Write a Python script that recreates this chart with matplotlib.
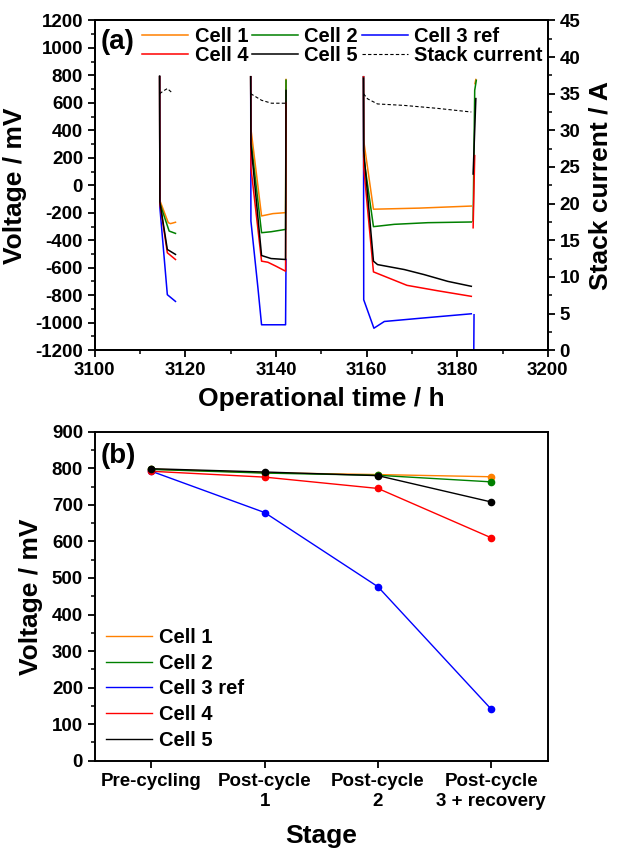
import numpy as np
import matplotlib
matplotlib.use("Agg")
import matplotlib.pyplot as plt
from matplotlib.ticker import MultipleLocator
from matplotlib.lines import Line2D

plt.rcParams['font.family'] = ['Liberation Sans', 'DejaVu Sans']
plt.rcParams['font.weight'] = 'bold'
plt.rcParams['axes.unicode_minus'] = False

nan = np.nan

# ---------------- Panel (a) data: operational time (h) vs voltage (mV) ----------------
cell1_t = [3114.3, 3114.35, 3116.2, 3116.7, 3117.8, nan,
           3134.4, 3134.45, 3136.8, 3139.3, 3142.1, 3142.2, nan,
           3159.3, 3159.35, 3161.5, 3171.6, 3183.1, nan, 3183.9, 3184.1]
cell1_v = [790, -110, -272, -279, -269, nan,
           790, 411, -223, -206, -199, 770, nan,
           790, 325, -174, -166, -151, nan, 740, 770]

cell2_t = [3114.3, 3114.35, 3116.4, 3117.8, nan,
           3134.4, 3134.45, 3136.8, 3138.9, 3142.1, 3142.2, nan,
           3159.3, 3159.35, 3161.5, 3166.1, 3173.5, 3183.1, nan, 3183.5, 3183.85, 3184.2]
cell2_v = [790, -130, -333, -350, nan,
           790, 326, -345, -338, -321, 765, nan,
           790, 203, -301, -284, -272, -267, nan, -260, 691, 764]

cell3_t = [3114.3, 3114.35, 3116.0, 3117.8, nan,
           3134.4, 3134.45, 3136.0, 3136.8, 3142.1, 3142.2, nan,
           3159.3, 3159.35, 3161.6, 3163.9, 3172.0, 3183.1, nan, 3183.7, 3183.65]
cell3_v = [790, -160, -796, -845, nan,
           790, -260, -747, -1015, -1015, -540, nan,
           790, -833, -1040, -991, -967, -935, nan, -942, -1186]

cell4_t = [3114.3, 3114.35, 3116.0, 3117.8, nan,
           3134.4, 3134.45, 3136.8, 3138.2, 3140.0, 3142.1, 3142.2, nan,
           3159.3, 3159.35, 3161.5, 3168.9, 3175.6, 3183.1, nan, 3183.5, 3183.85]
cell4_v = [790, -130, -491, -540, nan,
           790, 130, -552, -560, -589, -625, 600, nan,
           790, 130, -630, -728, -767, -808, nan, -309, 216]

cell5_t = [3114.3, 3114.35, 3116.0, 3117.8, nan,
           3134.4, 3134.45, 3136.8, 3138.9, 3142.1, 3142.2, nan,
           3159.3, 3159.35, 3161.5, 3162.4, 3168.3, 3172.7, 3177.9, 3183.1, nan, 3183.5, 3184.1]
cell5_v = [795, -120, -467, -503, nan,
           790, 300, -511, -533, -540, 690, nan,
           780, 250, -552, -577, -613, -650, -699, -735, nan, 82, 631]

stack_t = [3114.3, 3115.2, 3116.0, 3117.1, nan,
           3134.4, 3136.8, 3139.0, 3142.1, nan,
           3159.3, 3160.2, 3162.4, 3168.3, 3175.6, 3183.1]
stack_i = [35.0, 35.4, 35.7, 35.1, nan,
           35.0, 34.1, 33.7, 33.7, nan,
           35.0, 34.3, 33.6, 33.4, 33.0, 32.5]

# ---------------- Panel (b) data: stage vs voltage (mV) ----------------
stages = ['Pre-cycling', 'Post-cycle\n1', 'Post-cycle\n2', 'Post-cycle\n3 + recovery']
b_cell1 = [798, 788, 783, 777]
b_cell2 = [797, 787, 781, 763]
b_cell3 = [792, 679, 476, 141]
b_cell4 = [792, 776, 745, 610]
b_cell5 = [799, 790, 780, 708]

labels = ['Cell 1', 'Cell 2', 'Cell 3 ref', 'Cell 4', 'Cell 5']
colors = ['#FF8000', '#008000', '#0000FF', '#FF0000', '#000000']

fig = plt.figure(figsize=(6.24, 8.5), dpi=100)
ax1 = fig.add_axes([0.152, 0.588, 0.726, 0.388])
ax1r = ax1.twinx()
ax2 = fig.add_axes([0.152, 0.105, 0.726, 0.387])

tick_fs = 13.5
lab_fs = 19
leg_fs = 14.5

# Panel (a)
series_a = [(cell1_t, cell1_v), (cell2_t, cell2_v), (cell3_t, cell3_v),
            (cell4_t, cell4_v), (cell5_t, cell5_v)]
handles = []
for (t, v), c, lab in zip(series_a, colors, labels):
    h, = ax1.plot(t, v, color=c, lw=1.1, label=lab)
    handles.append(h)
hs, = ax1r.plot(stack_t, stack_i, color='black', lw=0.8, ls=(0, (3, 2)), label='Stack current')
handles.append(hs)

ax1.set_xlim(3100, 3200)
ax1.set_ylim(-1200, 1200)
ax1r.set_ylim(0, 45)
ax1.xaxis.set_major_locator(MultipleLocator(20))
ax1.xaxis.set_minor_locator(MultipleLocator(10))
ax1.yaxis.set_major_locator(MultipleLocator(200))
ax1.yaxis.set_minor_locator(MultipleLocator(100))
ax1r.yaxis.set_major_locator(MultipleLocator(5))
ax1r.yaxis.set_minor_locator(MultipleLocator(2.5))
ax1.set_xlabel('Operational time / h', fontsize=lab_fs, fontweight='bold', labelpad=6)
ax1.set_ylabel('Voltage / mV', fontsize=lab_fs, fontweight='bold', labelpad=6)
ax1r.set_ylabel('Stack current / A', fontsize=lab_fs, fontweight='bold', labelpad=6)
ax1.text(0.012, 0.935, '(a)', transform=ax1.transAxes, fontsize=20, fontweight='bold', va='center')

order = [0, 3, 1, 4, 2, 5]
ax1r.legend([handles[i] for i in order], [handles[i].get_label() for i in order],
            ncol=3, loc='upper left', bbox_to_anchor=(0.1, 0.985), frameon=False,
            handlelength=2.3, handletextpad=0.3, columnspacing=0.2,
            labelspacing=0.0, borderaxespad=0.0, borderpad=0.1,
            prop={'weight': 'bold', 'size': leg_fs})

# Panel (b)
xs = np.arange(len(stages))
series_b = [b_cell1, b_cell2, b_cell3, b_cell4, b_cell5]
for vals, c, lab in zip(series_b, colors, labels):
    ax2.plot(xs, vals, color=c, lw=1.0, marker='o', ms=4.5, label=lab)
ax2.set_xlim(-0.5, 3.5)
ax2.set_ylim(0, 900)
ax2.set_xticks(xs)
ax2.set_xticklabels(stages)
ax2.yaxis.set_major_locator(MultipleLocator(100))
ax2.yaxis.set_minor_locator(MultipleLocator(50))
ax2.set_xlabel('Stage', fontsize=lab_fs, fontweight='bold', labelpad=10)
ax2.set_ylabel('Voltage / mV', fontsize=lab_fs, fontweight='bold', labelpad=6)
ax2.text(0.012, 0.926, '(b)', transform=ax2.transAxes, fontsize=20, fontweight='bold', va='center')
leg_handles = [Line2D([], [], color=c, lw=1.0) for c in colors]
ax2.legend(leg_handles, labels, loc='lower left', bbox_to_anchor=(0.0, 0.0), frameon=False,
           handlelength=2.3, handletextpad=0.35, labelspacing=0.33, borderaxespad=0.15,
           prop={'weight': 'bold', 'size': leg_fs})

for ax in (ax1, ax1r, ax2):
    for s in ax.spines.values():
        s.set_linewidth(1.4)
    ax.tick_params(which='major', direction='out', length=5, width=1.3, labelsize=tick_fs)
    ax.tick_params(which='minor', direction='out', length=3, width=1.1)
    for lbl in ax.get_xticklabels() + ax.get_yticklabels():
        lbl.set_fontweight('bold')
ax2.tick_params(axis='x', which='major', pad=4)
ax2.tick_params(axis='x', which='minor', bottom=False)

fig.savefig('out.png', dpi=100)
